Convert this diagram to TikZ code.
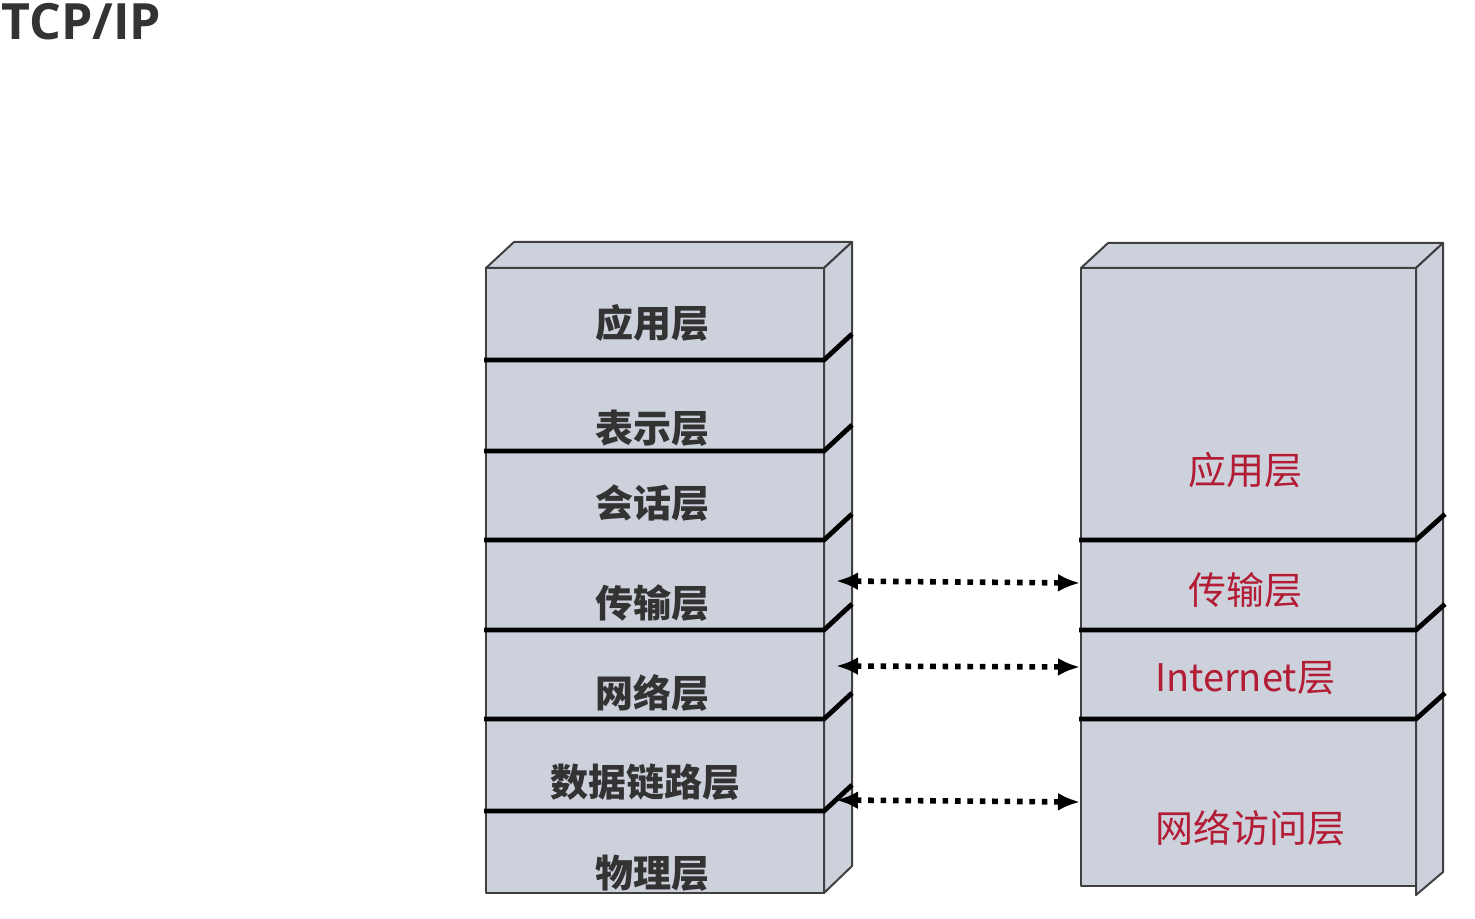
\documentclass[tikz,border=0pt]{standalone}
\usepackage{fontspec}
\setmainfont{Open Sans}
\newfontfamily\cjk{Noto Sans CJK SC}
\usetikzlibrary{arrows.meta, positioning}
\definecolor{layerfill}{RGB}{205,209,220}
\definecolor{tcpred}{RGB}{178,28,52}
\definecolor{titlegray}{RGB}{51,51,51}

\begin{document}
\begin{tikzpicture}[
    x=0.5pt, y=-0.5pt,
    face/.style={fill=layerfill, draw=black!75, line width=1pt, line join=round},
    divider/.style={line width=2.4pt, black},
    osilabel/.style={font=\cjk\bfseries\fontsize{19}{19}\selectfont, text=black!80, inner sep=0pt},
    tcplabel/.style={font=\cjk\fontsize{19}{19}\selectfont, text=tcpred, inner sep=0pt},
    peer/.style={{Latex[length=11pt,width=9pt]}-{Latex[length=11pt,width=9pt]}, line width=2.8pt, dash pattern=on 2.8pt off 3.4pt}
  ]
    \useasboundingbox (0,0) rectangle (1475,919);
    \node[anchor=north west, inner sep=0pt, font=\bfseries\fontsize{25}{25}\selectfont, text=titlegray] (title) at (1,3) {TCP/IP};

    % OSI stack
    \draw[face] (486,268) rectangle (824,893);
    \draw[face] (486,268) -- (514,242) -- (852,242) -- (824,268) -- cycle;
    \draw[face] (824,268) -- (852,242) -- (852,866) -- (824,893) -- cycle;
    \foreach \y in {360,451,540,630,719,811}
      \draw[divider] (484,\y) -- (824,\y) -- (852,\y-26);

    \node[osilabel] (osi-app)  at (652,323) {应用层};
    \node[osilabel] (osi-pre)  at (652,428) {表示层};
    \node[osilabel] (osi-ses)  at (652,503) {会话层};
    \node[osilabel] (osi-tra)  at (652,603) {传输层};
    \node[osilabel] (osi-net)  at (652,693) {网络层};
    \node[osilabel] (osi-link) at (645,782) {数据链路层};
    \node[osilabel] (osi-phy)  at (652,873) {物理层};

    % TCP/IP stack
    \draw[face] (1081,268) rectangle (1416,886);
    \draw[face] (1081,268) -- (1108,243) -- (1443,243) -- (1416,268) -- cycle;
    \draw[face] (1416,268) -- (1443,243) -- (1443,872) -- (1416,895) -- cycle;
    \foreach \y in {540,630,719}
      \draw[divider] (1079,\y) -- (1416,\y) -- (1445,\y-26);

    \node[tcplabel] (tcp-app) at (1245,470) {应用层};
    \node[tcplabel] (tcp-tra) at (1245,590) {传输层};
    \node[tcplabel] (tcp-int) at (1245,678) {Internet层};
    \node[tcplabel] (tcp-acc) at (1250,828) {网络访问层};

    % peer arrows
    \coordinate (osi-tra-e)  at (836,581);
    \coordinate (osi-net-e)  at (836,666);
    \coordinate (osi-link-e) at (836,800);
    \coordinate (tcp-tra-w)  at (1080,583);
    \coordinate (tcp-int-w)  at (1080,667);
    \coordinate (tcp-acc-w)  at (1080,802);

    \draw[peer] (osi-tra-e) -- (tcp-tra-w);
    \draw[peer] (osi-net-e) -- (tcp-int-w);
    \draw[peer] (osi-link-e) -- (tcp-acc-w);
  \end{tikzpicture}
\end{document}
